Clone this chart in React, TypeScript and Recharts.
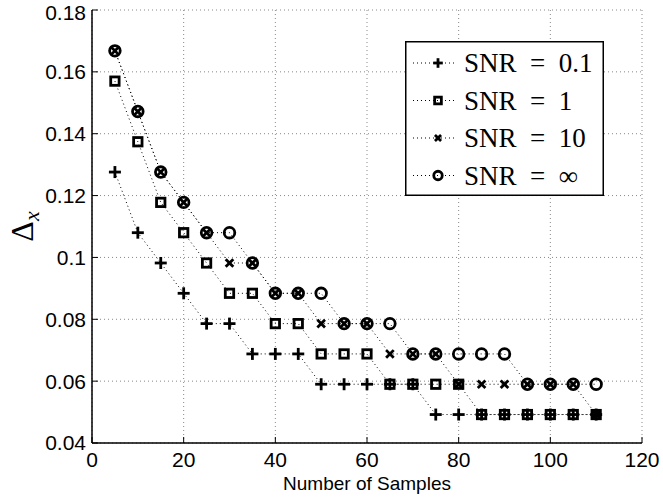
import React from 'react';
import {
  LineChart,
  Line,
  XAxis,
  YAxis,
  CartesianGrid,
  Label,
} from 'recharts';

const xValues = [5, 10, 15, 20, 25, 30, 35, 40, 45, 50, 55, 60, 65, 70, 75, 80, 85, 90, 95, 100, 105, 110];

const snr01 = [
  0.1276, 0.108, 0.0982, 0.0884, 0.0786, 0.0786, 0.0688, 0.0688, 0.0688, 0.059, 0.059,
  0.059, 0.059, 0.059, 0.0492, 0.0492, 0.0492, 0.0492, 0.0492, 0.0492, 0.0492, 0.0492,
];
const snr1 = [
  0.157, 0.1374, 0.1178, 0.108, 0.0982, 0.0884, 0.0884, 0.0786, 0.0786, 0.0688, 0.0688,
  0.0688, 0.059, 0.059, 0.059, 0.059, 0.0492, 0.0492, 0.0492, 0.0492, 0.0492, 0.0492,
];
const snr10 = [
  0.1668, 0.1472, 0.1276, 0.1178, 0.108, 0.0982, 0.0982, 0.0884, 0.0884, 0.0786, 0.0786,
  0.0786, 0.0688, 0.0688, 0.0688, 0.059, 0.059, 0.059, 0.059, 0.059, 0.059, 0.0492,
];
const snrInf = [
  0.1668, 0.1472, 0.1276, 0.1178, 0.108, 0.108, 0.0982, 0.0884, 0.0884, 0.0884, 0.0786,
  0.0786, 0.0786, 0.0688, 0.0688, 0.0688, 0.0688, 0.0688, 0.059, 0.059, 0.059, 0.059,
];

const seriesNames = ['SNR\u2002=\u20020.1', 'SNR\u2002=\u20021', 'SNR\u2002=\u200210', 'SNR\u2002=\u2002\u221E'];
const seriesKeys = ['snr01', 'snr1', 'snr10', 'snrInf'];
const markerTypes = ['plus', 'square', 'cross', 'circle'];

const xTicks = [0, 20, 40, 60, 80, 100, 120];
const yTicks = [0.04, 0.06, 0.08, 0.1, 0.12, 0.14, 0.16, 0.18];

const data = xValues.map((x, i) => ({
  x,
  snr01: snr01[i],
  snr1: snr1[i],
  snr10: snr10[i],
  snrInf: snrInf[i],
}));

const tickFont = { fill: '#000', fontSize: 21, fontFamily: '"Liberation Sans", Arial, sans-serif' };

function Marker({ type, cx, cy, s = 1 }: any) {
  const sw = 2.8;
  if (type === 'plus') {
    const h = 6 * s;
    return (
      <g stroke="#000" strokeWidth={sw} fill="none">
        <line x1={cx - h} y1={cy} x2={cx + h} y2={cy} />
        <line x1={cx} y1={cy - h} x2={cx} y2={cy + h} />
      </g>
    );
  }
  if (type === 'square') {
    const h = 4.2 * s;
    return <rect x={cx - h} y={cy - h} width={2 * h} height={2 * h} stroke="#000" strokeWidth={sw} fill="none" />;
  }
  if (type === 'cross') {
    const h = 3.8 * s;
    return (
      <g stroke="#000" strokeWidth={sw} fill="none">
        <line x1={cx - h} y1={cy - h} x2={cx + h} y2={cy + h} />
        <line x1={cx - h} y1={cy + h} x2={cx + h} y2={cy - h} />
      </g>
    );
  }
  return <circle cx={cx} cy={cy} r={5.3 * s} stroke="#000" strokeWidth={sw} fill="none" />;
}

const makeDot = (type: string) => (props: any) => {
  const { cx, cy, index } = props;
  return <Marker key={`${type}-${index}`} type={type} cx={cx} cy={cy} />;
};

// legend drawn as an overlay so it doesn't shrink the plot area
const LegendBox = () => (
  <svg width={199} height={155} style={{ display: 'block' }}>
    <rect x={0.75} y={0.75} width={197.5} height={153.5} fill="#fff" stroke="#000" strokeWidth={1.5} />
    {seriesNames.map((name, i) => {
      const cy = 22 + i * 37.5;
      return (
        <g key={name}>
          <line x1={8} y1={cy} x2={52} y2={cy} stroke="#000" strokeWidth={1} strokeDasharray="1 3" />
          <Marker type={markerTypes[i]} cx={33} cy={cy} s={0.8} />
          <text
            x={59}
            y={cy + 9}
            fontSize={27}
            fontFamily='"Liberation Serif", "Times New Roman", serif'
            fill="#000"
          >
            {name}
          </text>
        </g>
      );
    })}
  </svg>
);

const YTitle = ({ viewBox }: any) => {
  const cy = viewBox.y + viewBox.height / 2;
  return (
    <text
      x={33}
      y={cy}
      transform={`rotate(-90, 33, ${cy})`}
      textAnchor="middle"
      fontFamily='"Liberation Serif", "Times New Roman", serif'
      fontSize={32}
      fill="#000"
    >
      {'\u0394'}
      <tspan fontStyle="italic" fontSize={22} dy={6}>x</tspan>
    </text>
  );
};

export default function App() {
  return (
    <div style={{ position: 'absolute', left: 0, top: 0, width: 663, height: 504, background: '#fff' }}>
      <LineChart
        width={663}
        height={504}
        data={data}
        margin={{ top: 10, right: 21, bottom: 0, left: 0 }}
      >
        <CartesianGrid stroke="#888" strokeDasharray="1 3" />
        <XAxis
          dataKey="x"
          type="number"
          domain={[0, 120]}
          ticks={xTicks}
          height={61}
          tick={tickFont}
          tickSize={-6}
          tickMargin={15}
          axisLine={{ stroke: '#000', strokeWidth: 1.5 }}
          tickLine={{ stroke: '#000' }}
        >
          <Label
            value="Number of Samples"
            position="insideBottom"
            offset={14}
            style={{ fontSize: 19, fontFamily: '"Liberation Sans", Arial, sans-serif', fill: '#000' }}
          />
        </XAxis>
        <XAxis
          xAxisId="top"
          orientation="top"
          type="number"
          domain={[0, 120]}
          ticks={xTicks}
          height={0}
          tick={false}
          tickSize={-6}
          axisLine={{ stroke: '#000', strokeWidth: 1.5 }}
          tickLine={{ stroke: '#000' }}
        />
        <YAxis
          type="number"
          domain={[0.04, 0.18]}
          ticks={yTicks}
          width={92}
          tick={tickFont}
          tickSize={-6}
          tickMargin={12}
          tickFormatter={(v) => String(v)}
          axisLine={{ stroke: '#000', strokeWidth: 1.5 }}
          tickLine={{ stroke: '#000' }}
        >
          <Label content={<YTitle />} />
        </YAxis>
        <YAxis
          yAxisId="right"
          orientation="right"
          type="number"
          domain={[0.04, 0.18]}
          ticks={yTicks}
          width={0}
          tick={false}
          tickSize={-6}
          axisLine={{ stroke: '#000', strokeWidth: 1.5 }}
          tickLine={{ stroke: '#000' }}
        />
        {seriesKeys.map((k, i) => (
          <Line
            key={k}
            dataKey={k}
            name={seriesNames[i]}
            type="linear"
            stroke="#000"
            strokeWidth={1}
            strokeDasharray="1 3"
            dot={makeDot(markerTypes[i])}
            activeDot={false}
            isAnimationActive={false}
          />
        ))}
      </LineChart>
      <div style={{ position: 'absolute', left: 405, top: 41 }}>
        <LegendBox />
      </div>
    </div>
  );
}
